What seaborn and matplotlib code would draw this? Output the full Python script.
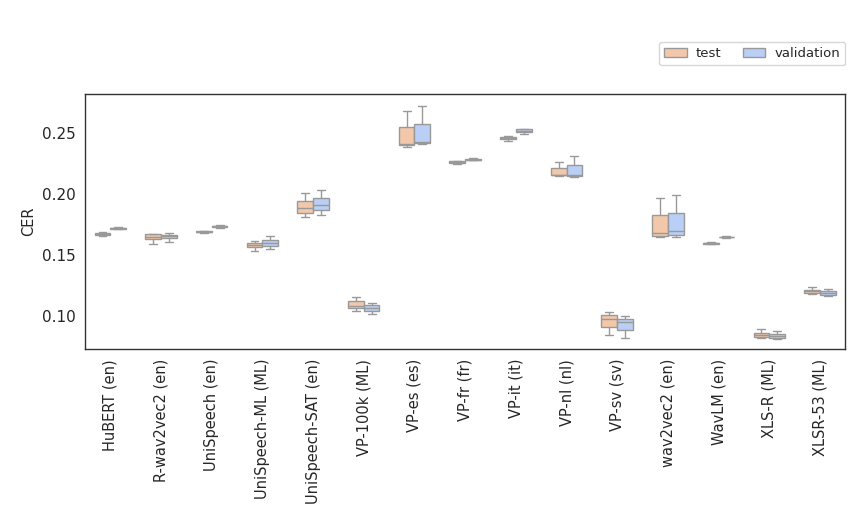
import numpy as np
import pandas as pd
import matplotlib.pyplot as plt
import seaborn as sns

models = ['HuBERT (en)', 'R-wav2vec2 (en)', 'UniSpeech (en)', 'UniSpeech-ML (ML)',
          'UniSpeech-SAT (en)', 'VP-100k (ML)', 'VP-es (es)', 'VP-fr (fr)',
          'VP-it (it)', 'VP-nl (nl)', 'VP-sv (sv)', 'wav2vec2 (en)', 'WavLM (en)',
          'XLS-R (ML)', 'XLSR-53 (ML)']

# min, q1, median, q3, max per model
test_cer = [
    [0.1660, 0.1668, 0.1675, 0.1682, 0.1690],
    [0.1590, 0.1631, 0.1648, 0.1670, 0.1672],
    [0.1680, 0.1686, 0.1690, 0.1694, 0.1700],
    [0.1533, 0.1566, 0.1582, 0.1598, 0.1615],
    [0.1811, 0.1844, 0.1885, 0.1943, 0.2008],
    [0.1041, 0.1066, 0.1082, 0.1123, 0.1156],
    [0.2385, 0.2402, 0.2410, 0.2549, 0.2680],
    [0.2250, 0.2258, 0.2262, 0.2270, 0.2274],
    [0.2434, 0.2455, 0.2463, 0.2470, 0.2475],
    [0.2152, 0.2156, 0.2160, 0.2213, 0.2262],
    [0.0844, 0.0910, 0.0975, 0.1008, 0.1033],
    [0.1648, 0.1656, 0.1680, 0.1828, 0.1967],
    [0.1592, 0.1595, 0.1598, 0.1601, 0.1604],
    [0.0820, 0.0828, 0.0844, 0.0860, 0.0893],
    [0.1180, 0.1189, 0.1205, 0.1213, 0.1238],
]
val_cer = [
    [0.1712, 0.1716, 0.1720, 0.1724, 0.1728],
    [0.1607, 0.1640, 0.1656, 0.1668, 0.1680],
    [0.1726, 0.1731, 0.1735, 0.1739, 0.1744],
    [0.1549, 0.1574, 0.1598, 0.1623, 0.1656],
    [0.1828, 0.1869, 0.1910, 0.1967, 0.2033],
    [0.1016, 0.1041, 0.1066, 0.1090, 0.1107],
    [0.2414, 0.2418, 0.2426, 0.2574, 0.2721],
    [0.2276, 0.2279, 0.2283, 0.2288, 0.2292],
    [0.2492, 0.2510, 0.2520, 0.2530, 0.2535],
    [0.2140, 0.2148, 0.2156, 0.2238, 0.2311],
    [0.0820, 0.0885, 0.0951, 0.0975, 0.1000],
    [0.1648, 0.1664, 0.1697, 0.1844, 0.1992],
    [0.1642, 0.1645, 0.1648, 0.1651, 0.1654],
    [0.0811, 0.0820, 0.0836, 0.0852, 0.0877],
    [0.1164, 0.1172, 0.1189, 0.1205, 0.1221],
]

rows = []
for m, t, v in zip(models, test_cer, val_cer):
    for x in t:
        rows.append((m, 'test', x))
    for x in v:
        rows.append((m, 'validation', x))
df = pd.DataFrame(rows, columns=['model', 'split', 'CER'])

sns.set_style('white')
fig = plt.figure(figsize=(8.59, 5.15), dpi=100)
ax = fig.add_axes([0.099, 0.322, 0.885, 0.4955])

palette = {'test': '#f3c8aa', 'validation': '#b9cff5'}
sns.boxplot(data=df, x='model', y='CER', hue='split', palette=palette, saturation=1,
            width=0.62, whis=np.inf, linewidth=1.0, linecolor='#999999', ax=ax)

ax.set_ylim(0.073, 0.282)
ax.set_yticks([0.10, 0.15, 0.20, 0.25])
ax.set_xlabel('')
ax.set_ylabel('CER', fontsize=10.5)
ax.tick_params(axis='x', rotation=90, labelsize=10.5)
ax.tick_params(axis='y', labelsize=11)
for s in ax.spines.values():
    s.set_color('#333333')
    s.set_linewidth(1.0)

ax.legend(loc='upper right', bbox_to_anchor=(1.0, 1.205), ncol=2,
          frameon=True, fontsize=9.5, handlelength=1.7, columnspacing=1.6,
          handletextpad=0.7, borderpad=0.4, borderaxespad=0)

plt.savefig('out.png', dpi=100)
